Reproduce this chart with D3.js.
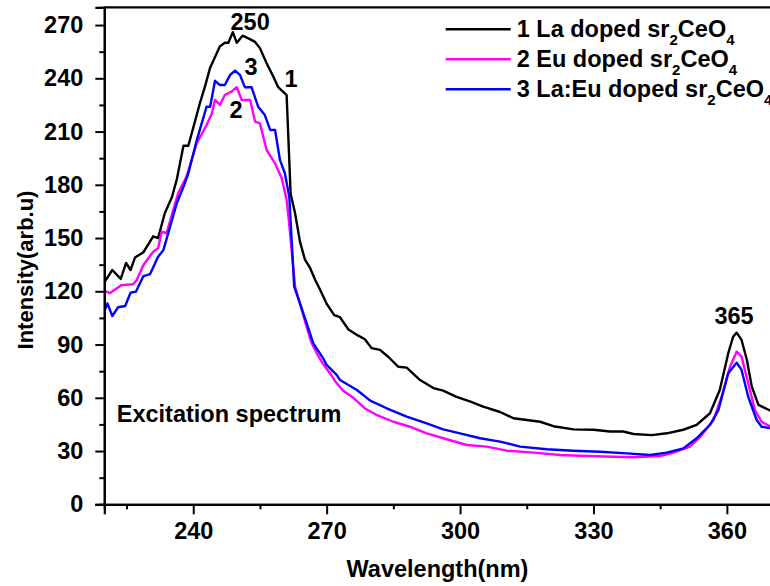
<!DOCTYPE html>
<html>
<head>
<meta charset="utf-8">
<script src="https://cdn.jsdelivr.net/npm/d3@7"></script>
<style>
	body { margin: 0; background: #fff; }
	text { font-family: "Liberation Sans", Arial, sans-serif; font-weight: bold; fill: #000; }
</style>
</head>
<body>
<div id="graph"></div>
<script>
// series 1 : La doped
var laWave = [220, 221.8, 223.7, 224.9, 225.9, 226.9, 228.8, 231, 232.1, 233.6, 235.2, 236.3, 237.8, 238.9, 241.5, 242.6, 243.8, 246, 247.1, 247.9, 248.9, 249.8, 251.1, 252.4, 253.9, 255, 256.5, 258, 259.1, 261, 261.9, 262.9, 264, 265.1, 266.3, 267.4, 268.5, 270, 271.7, 273, 274.9, 277.1, 278.6, 280.1, 282, 283.9, 286.1, 288, 291, 294, 296.2, 299.2, 302.2, 305.2, 309, 312, 318, 321, 325.5, 330, 333.7, 336.7, 339, 343.1, 346.5, 350.2, 353.2, 356.2, 358.4, 360.3, 361.4, 362.2, 363.3, 364.5, 365.6, 367.1, 370];
var laInt = [125, 132, 127, 136, 132, 139, 142, 151, 150, 164, 173, 183, 202, 202, 226, 235, 246, 258, 260, 260, 266, 260, 264, 262.5, 260.5, 257, 248.5, 241, 235, 230.5, 175, 164, 148, 138, 133, 126.5, 121, 113, 106.6, 105.4, 98.5, 95, 93, 88, 87, 83, 77.5, 77, 70, 65.5, 64, 60.5, 58, 55, 52, 48.5, 46.5, 44, 42.2, 42, 41, 41, 39.6, 39, 40, 42, 44.7, 51.3, 64.4, 85, 94.4, 96.7, 92.6, 81.3, 66.3, 56, 52.5];

// series 2 : Eu doped
var euWave = [220, 221.3, 223.9, 226.5, 227.3, 228.8, 231, 232.1, 232.9, 234, 235.5, 236.6, 238.5, 240.8, 243, 244.2, 244.9, 246, 247.1, 248.6, 249.8, 250.9, 252.8, 253.9, 255, 256.5, 258.4, 259.9, 261, 261.5, 262.9, 264, 265.5, 266.6, 268, 269.2, 270.7, 272, 273.7, 276, 278.6, 281.3, 285, 288.7, 292.5, 296.2, 301.5, 306, 310.5, 316.5, 322.5, 328.5, 334.5, 339, 345, 348, 351.7, 354, 357, 358.8, 360.7, 362.2, 363.3, 364.8, 366.3, 367.8, 370];
var euInt = [120.3, 119, 123.5, 124, 126.4, 134.8, 142.3, 144.2, 153.6, 152.7, 165.8, 175.2, 184.6, 203.4, 213.7, 220.3, 227.8, 225, 230.6, 232.5, 235, 227.8, 227.8, 215.6, 214.6, 199.6, 192.1, 183.7, 171.4, 160, 122.6, 113, 100, 91, 84, 79, 74, 69, 64, 60, 54, 50.3, 46.5, 43.7, 40, 37.2, 33.4, 32.5, 30.2, 29.1, 27.8, 27.2, 26.8, 26.5, 27.2, 29.1, 32.5, 38, 47.5, 60.6, 77.5, 86, 83.2, 68.2, 53.1, 46.5, 43.5];

// series 3 : La:Eu doped
var laEuWave = [220, 220.7, 221.8, 223.1, 224.7, 225.9, 227.1, 228.8, 230.3, 232.1, 233.3, 234.8, 236.3, 237.8, 238.9, 240.8, 243, 243.8, 244.9, 246, 247.1, 248.3, 249.4, 250.5, 251.6, 253.1, 254.6, 256.1, 257.3, 258.4, 259.5, 260.6, 261.6, 262.7, 264, 265.5, 267, 269.2, 270, 272.3, 273, 276.8, 279.8, 283.5, 288, 292.5, 296.2, 300, 304.5, 309, 313.5, 319.5, 325.5, 331.5, 337.5, 342.7, 346.5, 350.2, 353.2, 356.2, 358.1, 360.3, 362.2, 363.3, 364.8, 366.7, 367.8, 370];
var laEuInt = [108.5, 113.2, 106.1, 111, 111.7, 119.2, 119.8, 128.6, 129.7, 139.5, 143.3, 156.4, 169.6, 178.9, 186.5, 205.2, 224, 224, 238.6, 236.2, 236.2, 241.9, 244.3, 241.9, 235, 235, 224, 219.3, 210.9, 210.9, 194, 186.5, 173.3, 122.6, 113.2, 102, 90.7, 82.3, 78.5, 72.8, 70, 64.4, 58.4, 54.1, 49.4, 45.6, 42.2, 40, 37.2, 35.3, 32.5, 31, 30.2, 29.6, 28.7, 27.8, 29.1, 31.5, 37.2, 44.7, 53.1, 73.8, 79.8, 75.7, 60.6, 47.5, 43.7, 42.8];

var seriesNames = ["1 La doped sr", "2 Eu doped sr", "3 La:Eu doped sr"];
var seriesColors = ["#000000", "#ff00ff", "#0000ff"];

var xTicks = [240, 270, 300, 330, 360];
var xMinor = [225, 255, 285, 315, 345];
var yTicks = [0, 30, 60, 90, 120, 150, 180, 210, 240, 270];
var yMinor = [15, 45, 75, 105, 135, 165, 195, 225, 255];

// peak labels: text, wavelength, intensity (baseline)
var notes = [
	{t: "250", x: 252.8, y: 267.2},
	{t: "1", x: 262, y: 234.9},
	{t: "3", x: 253, y: 241.9},
	{t: "2", x: 249.6, y: 217.6},
	{t: "365", x: 361.6, y: 101.6}
];

var w = 770;
var h = 586;
var padLeft = 104.3, padTop = 7.3, padBottom = 504.3;
var fontSize = "23.5px";

var xScale = d3.scaleLinear()
	.domain([220, 370])
	.range([padLeft, padLeft + 150 * 4.447]);
var yScale = d3.scaleLinear()
	.domain([0, 280])
	.range([padBottom, padTop]);

var svg = d3.select("#graph")
	.append("svg")
	.attr("width", w)
	.attr("height", h);

svg.append("defs").append("clipPath")
	.attr("id", "plotclip")
	.append("rect")
	.attr("x", padLeft)
	.attr("y", padTop)
	.attr("width", xScale(370) - padLeft)
	.attr("height", padBottom - padTop);

var allData = [
	d3.zip(laWave, laInt),
	d3.zip(euWave, euInt),
	d3.zip(laEuWave, laEuInt)
];

var line = d3.line()
	.x(function (d) { return xScale(d[0]); })
	.y(function (d) { return yScale(d[1]); });

var curves = svg.append("g")
	.attr("clip-path", "url(#plotclip)");

[0, 1, 2].forEach(function (i) {
	curves.append("path")
		.datum(allData[i])
		.attr("fill", "none")
		.attr("stroke", seriesColors[i])
		.attr("stroke-width", 2.4)
		.attr("stroke-linejoin", "round")
		.attr("d", line);
});

// axes
var xAxis = d3.axisBottom(xScale)
	.tickValues(xTicks)
	.tickSize(10)
	.tickPadding(8);
var xAxisMinor = d3.axisBottom(xScale)
	.tickValues(xMinor)
	.tickSize(5)
	.tickFormat("");
var yAxis = d3.axisLeft(yScale)
	.tickValues(yTicks)
	.tickSize(9)
	.tickPadding(12);
var yAxisMinor = d3.axisLeft(yScale)
	.tickValues(yMinor)
	.tickSize(5)
	.tickFormat("");

function styleAxis(g) {
	g.select(".domain").attr("stroke-width", 2.2);
	g.selectAll(".tick line").attr("stroke-width", 2);
	g.selectAll(".tick text")
		.style("font-size", fontSize)
		.style("font-family", "'Liberation Sans', Arial, sans-serif")
		.style("font-weight", "bold");
}

svg.append("g")
	.attr("transform", "translate(0," + padBottom + ")")
	.call(xAxisMinor)
	.call(styleAxis);
svg.append("g")
	.attr("transform", "translate(0," + padBottom + ")")
	.call(xAxis)
	.call(styleAxis);
svg.append("g")
	.attr("transform", "translate(" + padLeft + ",0)")
	.call(yAxisMinor)
	.call(styleAxis);
svg.append("g")
	.attr("transform", "translate(" + padLeft + ",0)")
	.call(yAxis)
	.call(styleAxis);

// top frame
svg.append("line")
	.attr("x1", padLeft)
	.attr("x2", w)
	.attr("y1", padTop)
	.attr("y2", padTop)
	.attr("stroke", "#000")
	.attr("stroke-width", 2.2);

// axis titles
svg.append("text")
	.attr("x", 437.5)
	.attr("y", 577)
	.attr("text-anchor", "middle")
	.style("font-size", fontSize)
	.text("Wavelength(nm)");

svg.append("text")
	.attr("transform", "translate(33,270) rotate(-90)")
	.attr("text-anchor", "middle")
	.style("font-size", "22px")
	.text("Intensity(arb.u)");

// labels on the plot
svg.selectAll(".note")
	.data(notes)
	.enter()
	.append("text")
	.attr("class", "note")
	.attr("x", function (d) { return xScale(d.x); })
	.attr("y", function (d) { return yScale(d.y); })
	.attr("text-anchor", "middle")
	.style("font-size", fontSize)
	.text(function (d) { return d.t; });

svg.append("text")
	.attr("x", xScale(222.8))
	.attr("y", yScale(46.5))
	.style("font-size", fontSize)
	.text("Excitation spectrum");

// legend
var legend = svg.append("g")
	.attr("transform", "translate(445.7,29.3)");

seriesNames.forEach(function (name, i) {
	var row = legend.append("g")
		.attr("transform", "translate(0," + (i * 30) + ")");
	row.append("line")
		.attr("x1", 0)
		.attr("x2", 65)
		.attr("stroke", seriesColors[i])
		.attr("stroke-width", 2.4);
	var t = row.append("text")
		.attr("x", 71)
		.attr("y", 7.4)
		.style("font-size", fontSize);
	t.append("tspan").text(name);
	t.append("tspan").attr("dy", 8).style("font-size", "15px").text("2");
	t.append("tspan").attr("dy", -8).text("CeO");
	t.append("tspan").attr("dy", 8).style("font-size", "15px").text("4");
});
</script>
</body>
</html>
